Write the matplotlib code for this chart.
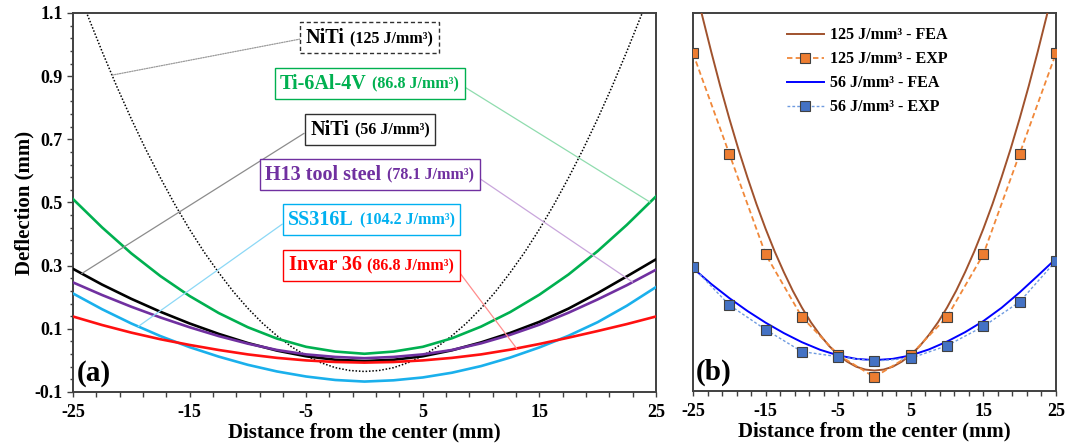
"""
Deflection profiles: (a) FEA curves for several alloys, (b) FEA vs experiment for NiTi.
"""

import matplotlib

matplotlib.use("Agg")
import matplotlib.pyplot as plt
import numpy as np
from matplotlib.offsetbox import AnnotationBbox, HPacker, TextArea
from matplotlib.ticker import AutoMinorLocator

plt.rcParams["font.family"] = ["Liberation Serif", "DejaVu Serif"]
plt.rcParams["font.weight"] = "bold"
plt.rcParams["axes.unicode_minus"] = False
plt.rcParams["lines.solid_joinstyle"] = "round"

# ---- data ----
x_mm = [-25, -22.5, -20, -17.5, -15, -12.5, -10, -7.5, -5, -2.5, 0,
        2.5, 5, 7.5, 10, 12.5, 15, 17.5, 20, 22.5, 25]

ti64 = [0.511, 0.421, 0.339, 0.267, 0.204, 0.150, 0.105, 0.069, 0.043, 0.028, 0.021,
        0.028, 0.043, 0.070, 0.107, 0.153, 0.208, 0.272, 0.346, 0.429, 0.519]
niti_56 = [0.290, 0.240, 0.195, 0.154, 0.117, 0.084, 0.055, 0.031, 0.013, 0.002, -0.002,
           0.002, 0.013, 0.032, 0.057, 0.087, 0.122, 0.164, 0.213, 0.266, 0.320]
h13 = [0.247, 0.207, 0.170, 0.136, 0.105, 0.077, 0.053, 0.033, 0.019, 0.011, 0.007,
       0.011, 0.019, 0.033, 0.054, 0.081, 0.113, 0.151, 0.193, 0.238, 0.287]
ss316l = [0.212, 0.162, 0.117, 0.077, 0.042, 0.012, -0.014, -0.035, -0.051, -0.062, -0.067,
          -0.063, -0.054, -0.039, -0.018, 0.009, 0.041, 0.078, 0.121, 0.173, 0.232]
invar36 = [0.139, 0.112, 0.088, 0.067, 0.049, 0.033, 0.019, 0.008, 0.000, -0.005, -0.007,
           -0.005, 0.000, 0.008, 0.019, 0.034, 0.052, 0.072, 0.093, 0.115, 0.139]

# NiTi 125 J/mm3 is much steeper, read at a finer step
x_fine = [-25, -23.75, -22.5, -21.25, -20, -18.75, -17.5, -16.25, -15, -13.75, -12.5,
          -11.25, -10, -8.75, -7.5, -6.25, -5, -3.75, -2.5, -1.25, 0,
          1.25, 2.5, 3.75, 5, 6.25, 7.5, 8.75, 10, 11.25, 12.5,
          13.75, 15, 16.25, 17.5, 18.75, 20, 21.25, 22.5, 23.75, 25]
niti_125 = [1.215, 1.093, 0.978, 0.868, 0.765, 0.668, 0.578, 0.493, 0.415, 0.343, 0.278,
            0.218, 0.165, 0.118, 0.078, 0.043, 0.015, -0.007, -0.023, -0.032, -0.035,
            -0.032, -0.023, -0.007, 0.015, 0.043, 0.078, 0.118, 0.165, 0.218, 0.278,
            0.343, 0.415, 0.493, 0.578, 0.668, 0.765, 0.868, 0.978, 1.093, 1.215]

x_exp = [-25, -20, -15, -10, -5, 0, 5, 10, 15, 20, 25]
exp_125 = [0.972, 0.653, 0.334, 0.135, 0.015, -0.056, 0.015, 0.135, 0.334, 0.653, 0.972]
exp_56 = [0.293, 0.173, 0.095, 0.025, 0.009, -0.005, 0.004, 0.044, 0.105, 0.183, 0.313]

label_names = ["NiTi", "Ti-6Al-4V", "NiTi", "H13 tool steel", "SS316L", "Invar 36"]
label_energy = ["(125 J/mm³)", "(86.8 J/mm³)", "(56 J/mm³)", "(78.1 J/mm³)",
                "(104.2 J/mm³)", "(86.8 J/mm³)"]

# ---- styling / layout ----
curve_x = [x_fine, x_mm, x_mm, x_mm, x_mm, x_mm]
curves = [niti_125, ti64, niti_56, h13, ss316l, invar36]
text_colors = ["black", "#00b050", "black", "#7030a0", "#00b0f0", "#ff0000"]
edge_colors = ["#303030", "#00b050", "#303030", "#7030a0", "#00b0f0", "#ff0000"]
leader_colors = ["#9a9a9a", "#8fdcae", "#8c8c8c", "#c9a6dc", "#8cd8f6", "#ff8c8c"]
box_centers = [(0.45, 1.021), (0.45, 0.876), (0.45, 0.731), (0.45, 0.588), (0.6, 0.445), (0.6, 0.301)]
leader_side = [0, 1, 0, 1, 0, 1]
leader_x = [-21.65, 24.5, -24.25, 23.0, -19.4, 13.05]

TICK = 13
LABEL = 15
SPINE = "#404040"

fig = plt.figure(figsize=(10.65, 4.46), dpi=100)
ax_a = fig.add_axes([0.0685, 0.1211, 0.5474, 0.8498])
ax_b = fig.add_axes([0.6507, 0.1233, 0.3408, 0.8476])

# ---- panel (a) ----
ax_a.plot(x_fine, niti_125, color="black", lw=1.1, ls=(0, (1, 1.2)), zorder=2)
for curve, color in zip(curves[1:], ["#00b050", "black", "#7030a0", "#1ab0ec", "#ff1010"]):
    ax_a.plot(x_mm, curve, color=color, lw=1.9, zorder=3)

for i in range(len(label_names)):
    ty = float(np.interp(leader_x[i], curve_x[i], curves[i]))
    box = HPacker(
        children=[
            TextArea(label_names[i], textprops=dict(color=text_colors[i], size=14.5, weight="bold")),
            TextArea(label_energy[i], textprops=dict(color=text_colors[i], size=11.5, weight="bold")),
        ],
        align="baseline", pad=0, sep=4,
    )
    ab = AnnotationBbox(
        box, (leader_x[i], ty), xybox=box_centers[i],
        xycoords="data", boxcoords="data", box_alignment=(0.5, 0.5),
        frameon=True, pad=0.4,
        bboxprops=dict(edgecolor=edge_colors[i], facecolor="white", lw=1.0,
                       ls=(0, (3, 2)) if i == 0 else "-"),
        arrowprops=dict(arrowstyle="-", color=leader_colors[i], lw=0.9,
                        ls=(0, (1, 1)) if i == 0 else "-",
                        relpos=(leader_side[i], 0.5), shrinkA=0, shrinkB=0),
        zorder=4,
    )
    ax_a.add_artist(ab)

ax_a.set_xlim(-25, 25)
ax_a.set_ylim(-0.1, 1.1)
ax_a.set_yticks([-0.1, 0.1, 0.3, 0.5, 0.7, 0.9, 1.1])
ax_a.set_ylabel("Deflection (mm)", fontsize=LABEL, fontweight="bold", labelpad=0)
ax_a.text(0.006, 0.012, "(a)", transform=ax_a.transAxes, fontsize=21, fontweight="bold",
          ha="left", va="bottom")

# ---- panel (b) ----
ax_b.plot(x_fine, niti_125, color="#a0522d", lw=1.4, label="125 J/mm³ - FEA", zorder=3)
ax_b.plot(x_exp, exp_125, color="#f0883a", lw=1.3, ls=(0, (3, 1.8)), marker="s", ms=7,
          mfc="#ed7d31", mec="#404040", mew=0.8, label="125 J/mm³ - EXP", zorder=4)
ax_b.plot(x_mm, niti_56, color="#0000ff", lw=1.4, label="56 J/mm³ - FEA", zorder=3)
ax_b.plot(x_exp, exp_56, color="#6f9be0", lw=1.0, ls=(0, (2, 1.5)), marker="s", ms=7,
          mfc="#4472c4", mec="#404040", mew=0.8, label="56 J/mm³ - EXP", zorder=4)
ax_b.set_xlim(-25, 25)
ax_b.set_ylim(-0.1, 1.1)
ax_b.tick_params(axis="y", left=False, labelleft=False, which="both")
ax_b.legend(loc="upper center", bbox_to_anchor=(0.48, 1.0), frameon=False, fontsize=11.5,
            handlelength=2.3, handletextpad=0.4, labelspacing=0.5)
ax_b.text(0.008, 0.012, "(b)", transform=ax_b.transAxes, fontsize=21, fontweight="bold",
          ha="left", va="bottom")

for ax in (ax_a, ax_b):
    ax.set_xticks([-25, -15, -5, 5, 15, 25])
    ax.xaxis.set_minor_locator(AutoMinorLocator(5))
    ax.yaxis.set_minor_locator(AutoMinorLocator(5))
    ax.set_xlabel("Distance from the center (mm)", fontsize=LABEL, fontweight="bold", labelpad=1)
    ax.tick_params(axis="both", which="both", direction="out", labelsize=TICK, color=SPINE,
                   width=1.0)
    ax.tick_params(axis="x", which="both", length=3.5, pad=5)
    ax.tick_params(axis="y", which="major", length=4)
    ax.tick_params(axis="y", which="minor", length=2.5)
    for spine in ax.spines.values():
        spine.set_color(SPINE)
        spine.set_linewidth(1.4)

fig.savefig("out.png", dpi=100)
